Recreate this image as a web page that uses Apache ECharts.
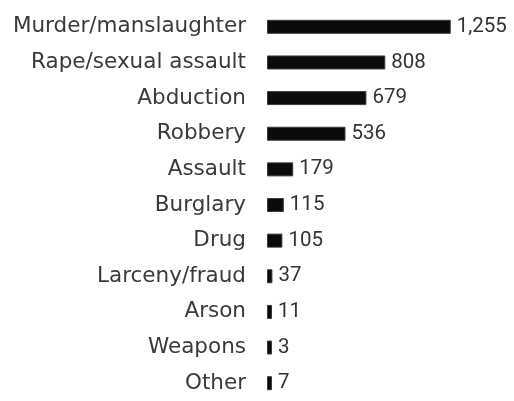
<!DOCTYPE html>
<html>
<head>
<meta charset="utf-8">
<script src="https://cdn.jsdelivr.net/npm/echarts@6/dist/echarts.min.js"></script>
<style>
  html, body { margin: 0; padding: 0; background: #fff; }
  #chart { width: 514px; height: 401px; }
</style>
</head>
<body>
<div id="chart"></div>
<script>
// crime categories, top to bottom
const categories = [
  'Murder/manslaughter', 'Rape/sexual assault', 'Abduction', 'Robbery',
  'Assault', 'Burglary', 'Drug', 'Larceny/fraud', 'Arson', 'Weapons', 'Other'
]
const counts = [1255, 808, 679, 536, 179, 115, 105, 37, 11, 3, 7]

const chart = echarts.init(document.getElementById('chart'))
chart.setOption({
  animation: false,
  grid: {
    left: 267,
    width: 205,
    top: 9,
    height: 404
  },
  xAxis: {
    type: 'value',
    min: 0,
    max: 1400,
    show: false
  },
  yAxis: {
    type: 'category',
    data: categories,
    inverse: true,
    axisLine: { show: false },
    axisTick: { show: false },
    axisLabel: {
      margin: 21,
      fontFamily: 'DejaVu Sans',
      fontSize: 21.5,
      color: '#3a3a3a'
    }
  },
  series: [
    {
      type: 'bar',
      data: counts,
      barWidth: 14,
      barMinHeight: 5,
      itemStyle: {
        color: '#0b0b0b',
        borderColor: '#3c3c3c',
        borderWidth: 1
      },
      label: {
        show: true,
        position: 'right',
        distance: 6,
        fontFamily: 'Roboto',
        fontSize: 20.5,
        color: '#333',
        formatter: (p) => p.value.toLocaleString('en-US')
      }
    }
  ]
})
</script>
</body>
</html>
